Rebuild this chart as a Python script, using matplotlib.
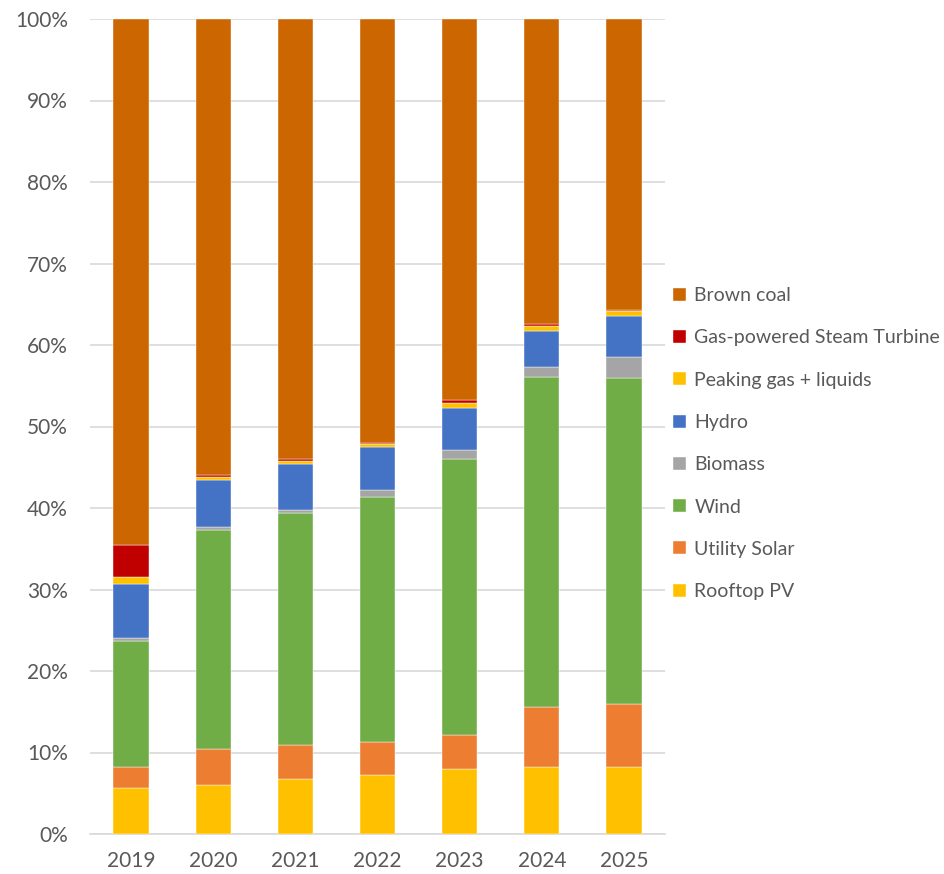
import matplotlib.pyplot as plt
import numpy as np
from matplotlib.ticker import PercentFormatter

years = ['2019', '2020', '2021', '2022', '2023', '2024', '2025']

# share of generation (%) by source, stacked bottom to top
rooftop_pv = [5.6, 6.0, 6.75, 7.25, 8.0, 8.2, 8.2]
utility_solar = [2.65, 4.4, 4.15, 4.05, 4.2, 7.4, 7.8]
wind = [15.4, 26.85, 28.45, 30.1, 33.8, 40.5, 40.0]
biomass = [0.4, 0.45, 0.45, 0.8, 1.1, 1.2, 2.55]
hydro = [6.65, 5.7, 5.6, 5.3, 5.2, 4.45, 5.0]
peaking_gas = [0.8, 0.4, 0.4, 0.35, 0.6, 0.55, 0.65]
steam_turbine = [3.9, 0.2, 0.25, 0.15, 0.3, 0.3, 0.1]
brown_coal = [64.6, 56.0, 53.95, 52.0, 46.8, 37.4, 35.7]

series = [
    ('Rooftop PV', rooftop_pv, '#FFC000'),
    ('Utility Solar', utility_solar, '#ED7D31'),
    ('Wind', wind, '#70AD47'),
    ('Biomass', biomass, '#A5A5A5'),
    ('Hydro', hydro, '#4472C4'),
    ('Peaking gas + liquids', peaking_gas, '#FFC000'),
    ('Gas-powered Steam Turbine', steam_turbine, '#C00000'),
    ('Brown coal', brown_coal, '#CC6600'),
]

plt.rcParams['font.family'] = ['Lato', 'DejaVu Sans']

fig = plt.figure(figsize=(9.45, 8.74), dpi=100)
ax = fig.add_axes([90 / 945, 40 / 874, 575 / 945, 815 / 874])

x = np.arange(len(years))
bottom = np.zeros(len(years))
handles = []
for name, vals, color in series:
    b = ax.bar(x, vals, width=0.43, bottom=bottom, color=color, label=name,
               edgecolor='white', linewidth=0.3, zorder=3)
    bottom += np.array(vals)
    handles.append(b)

ax.set_xlim(-0.5, len(years) - 0.5)
ax.set_ylim(0, 100)
ax.set_yticks(np.arange(0, 101, 10))
ax.yaxis.set_major_formatter(PercentFormatter(decimals=0))
ax.set_xticks(x)
ax.set_xticklabels(years)
ax.grid(axis='y', color='#D9D9D9', linewidth=1.2, zorder=0)
for s in ['top', 'right', 'left']:
    ax.spines[s].set_visible(False)
ax.spines['bottom'].set_color('#D9D9D9')
ax.spines['bottom'].set_linewidth(1.2)
ax.tick_params(axis='both', length=0, labelsize=15, colors='#595959')
ax.tick_params(axis='x', pad=12)
ax.tick_params(axis='y', pad=16)

ax.legend(handles[::-1], [h.get_label() for h in handles[::-1]],
          loc='center left', bbox_to_anchor=(0.99, 0.479), frameon=False,
          fontsize=14, labelcolor='#595959', handlelength=0.65,
          handleheight=0.65, handletextpad=0.45, labelspacing=1.3,
          borderaxespad=0.3)

fig.savefig('out.png', dpi=100)
